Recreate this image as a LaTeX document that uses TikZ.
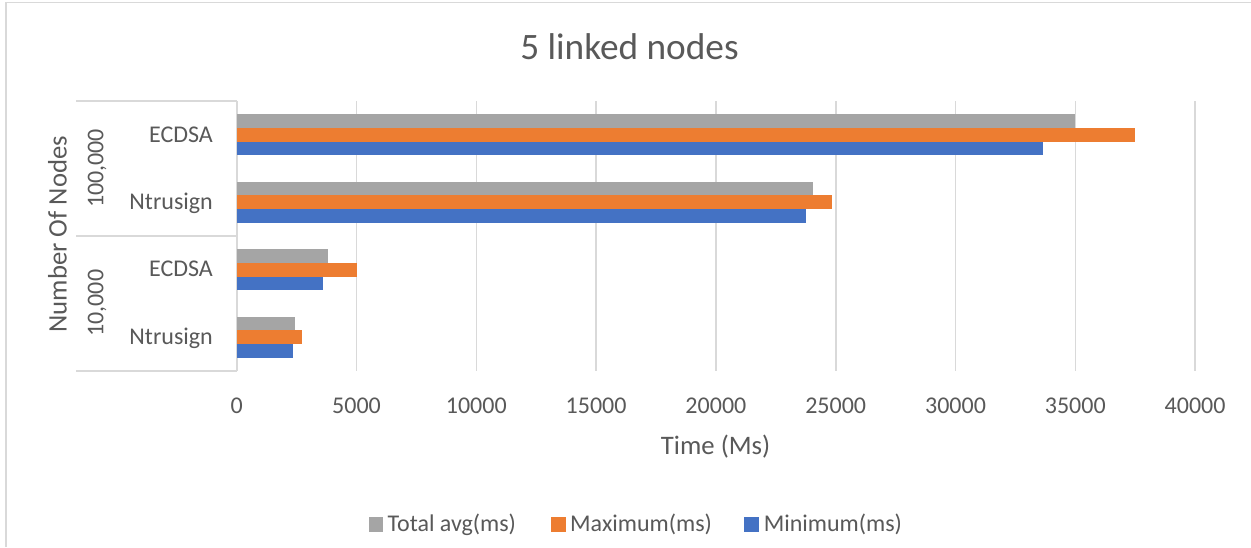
\documentclass[tikz,border=0pt]{standalone}
\usepackage{fontspec}
\setmainfont{Carlito}
\definecolor{gridgray}{HTML}{D9D9D9}
\definecolor{txtgray}{HTML}{595959}
\definecolor{avggray}{HTML}{A5A5A5}
\definecolor{maxorange}{HTML}{ED7D31}
\definecolor{minblue}{HTML}{4472C4}
\tikzset{
  gridline/.style={draw=gridgray,line width=1.6pt},
  ticklbl/.style={text=txtgray,font=\fontsize{24}{28}\selectfont,inner sep=0pt},
  axtitle/.style={text=txtgray,font=\fontsize{26.7}{31}\selectfont,inner sep=0pt},
  charttitle/.style={text=txtgray,font=\fontsize{37.3}{44}\selectfont,inner sep=0pt},
  keybox/.style={minimum size=14.5pt,inner sep=0pt,draw=none}
}
\begin{document}
\begin{tikzpicture}[x=1pt,y=-1pt]
\useasboundingbox (0,0) rectangle (1251,547);
\fill[white] (0,0) rectangle (1251,547);
% chart frame
\draw[gridgray,line width=1.6pt] (6,547) -- (6,2.5) -- (1251,2.5);

% title
\node[charttitle,anchor=base] (title) at (629.5,59.3) {5 linked nodes};

% vertical gridlines and value labels
\foreach \k/\lab in {0/0,1/5000,2/10000,3/15000,4/20000,5/25000,6/30000,7/35000,8/40000}{
  \draw[gridline] ({236.7+\k*119.8},101) -- ({236.7+\k*119.8},370.7);
  \node[ticklbl,anchor=base] (xt\k) at ({236.7+\k*119.8},413.3) {\lab};
}

% category axis dividers
\foreach \yy in {101,235.7,370.7}
  \draw[gridline] (76,\yy) -- (236.7,\yy);

% bars: centre / avg / max / min (values in thousands of ms)
\foreach \c/\g/\o/\b in {134.75/35.0/37.5/33.65, 202.25/24.06/24.84/23.77,
                         269.75/3.80/5.03/3.60, 337.25/2.45/2.725/2.36}{
  \fill[avggray]   (236.7,\c-20.5) rectangle ({236.7+\g*23.96},\c-6.85);
  \fill[maxorange] (236.7,\c-6.85) rectangle ({236.7+\o*23.96},\c+6.85);
  \fill[minblue]   (236.7,\c+6.85) rectangle ({236.7+\b*23.96},\c+20.5);
}

% category labels
\node[ticklbl,anchor=base east] (c1) at (213,142.3) {ECDSA};
\node[ticklbl,anchor=base east] (c2) at (213,209.3) {Ntrusign};
\node[ticklbl,anchor=base east] (c3) at (213,276.8) {ECDSA};
\node[ticklbl,anchor=base east] (c4) at (213,344.3) {Ntrusign};
\node[ticklbl,anchor=base,rotate=90] (g1) at (103.3,168.4) {100,000};
\node[ticklbl,anchor=base,rotate=90] (g2) at (103.3,303.2) {10,000};

% axis titles
\node[axtitle,anchor=base,rotate=90] (ytitle) at (66.7,234.2) {Number Of Nodes};
\node[axtitle,anchor=base] (xtitle) at (715.6,454) {Time (Ms)};

% legend
\node[keybox,fill=avggray,anchor=south west] (k1) at (368.5,531.7) {};
\node[ticklbl,anchor=base west] (l1) at (387.4,531.7) {Total avg(ms)};
\node[keybox,fill=maxorange,anchor=south west] (k2) at (550.9,531.7) {};
\node[ticklbl,anchor=base west] (l2) at (570,531.7) {Maximum(ms)};
\node[keybox,fill=minblue,anchor=south west] (k3) at (744,531.7) {};
\node[ticklbl,anchor=base west] (l3) at (763.6,531.7) {Minimum(ms)};
\end{tikzpicture}
\end{document}
